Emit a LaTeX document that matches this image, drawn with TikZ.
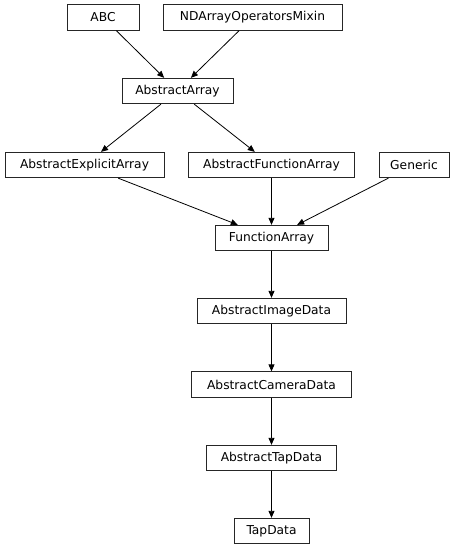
\documentclass[tikz,border=0pt]{standalone}
\usepackage{fontspec}
\setmainfont{DejaVu Sans}
\usetikzlibrary{arrows.meta}
\begin{document}
\begin{tikzpicture}[x=1bp,y=-1bp,
  cls/.style={draw=black!85, line width=0.8bp, rectangle, minimum height=25.5bp, inner xsep=2bp, inner ysep=0bp,
    font=\fontsize{12.3}{15}\selectfont, anchor=center},
  inh/.style={draw=black, line width=0.8bp, -{Triangle[length=7bp,width=6bp]}}]
\useasboundingbox (0,0) rectangle (457,549);
\node[cls, minimum width=72bp]  (abc)  at (103,17.5)  {ABC};
\node[cls, minimum width=179bp] (nd)   at (252.5,17.5) {NDArrayOperatorsMixin};
\node[cls, minimum width=111bp] (aa)   at (177.5,91)  {AbstractArray};
\node[cls, minimum width=159bp] (aea)  at (84.5,165)  {AbstractExplicitArray};
\node[cls, minimum width=166bp] (afa)  at (271.5,165) {AbstractFunctionArray};
\node[cls, minimum width=70bp]  (gen)  at (414,165)   {Generic};
\node[cls, minimum width=113bp] (fa)   at (271.5,238) {FunctionArray};
\node[cls, minimum width=149bp] (aid)  at (271.5,311) {AbstractImageData};
\node[cls, minimum width=160bp] (acd)  at (271.5,384.5) {AbstractCameraData};
\node[cls, minimum width=130bp] (atd)  at (271.5,458)   {AbstractTapData};
\node[cls, minimum width=75bp]  (td)   at (271.5,531) {TapData};
\draw[inh] (abc) -- (aa);
\draw[inh] (nd) -- (aa);
\draw[inh] (aa) -- (aea);
\draw[inh] (aa) -- (afa);
\draw[inh] (aea) -- (fa);
\draw[inh] (afa) -- (fa);
\draw[inh] (gen) -- (fa);
\draw[inh] (fa) -- (aid);
\draw[inh] (aid) -- (acd);
\draw[inh] (acd) -- (atd);
\draw[inh] (atd) -- (td);
\end{tikzpicture}
\end{document}
